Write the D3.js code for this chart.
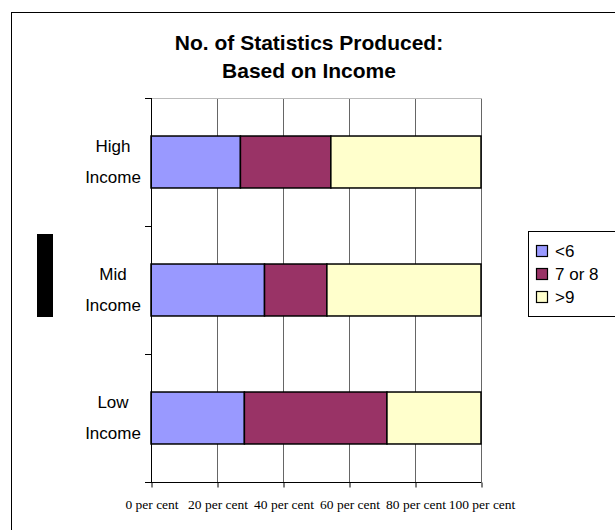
<!DOCTYPE html>
<html><head><meta charset="utf-8">
<script src="https://cdn.jsdelivr.net/npm/d3@7"></script>
<style>body{margin:0;background:#fff}svg{display:block}</style>
</head><body>
<svg id="c" width="615" height="530"></svg>
<script>
const categories = [["High","Income"],["Mid","Income"],["Low","Income"]];
const seriesNames = ["<6","7 or 8",">9"];
const seriesColors = ["#9999FF","#993366","#FFFFCC"];
const lt6 = [27.1, 34.4, 28.3];
const s7or8 = [27.4, 18.9, 43.2];
const gt9 = [45.5, 46.7, 28.5];
const tickValues = [0,20,40,60,80,100];
const tickLabels = ["0 per cent","20 per cent","40 per cent","60 per cent","80 per cent","100 per cent"];
const titleLines = ["No. of Statistics Produced:","Based on Income"];

const svg = d3.select("#c");
// outer chart border
svg.append("rect").attr("x",11.5).attr("y",12.5).attr("width",604).attr("height",530)
  .attr("fill","none").attr("stroke","#000").attr("stroke-width",1);

const L=151, R=481, T=98, B=482;
const x = d3.scaleLinear().domain([0,100]).range([L,R]);
const y = d3.scaleBand().domain(d3.range(categories.length)).range([T,B]).paddingInner(0.594).paddingOuter(0.297);

// title
svg.append("text").attr("text-anchor","middle")
  .attr("font-family","Liberation Sans, Arial, sans-serif").attr("font-weight","bold").attr("font-size",21)
  .selectAll("tspan").data(titleLines).join("tspan")
  .attr("x",309).attr("y",(d,i)=>50+i*28).text(d=>d);

// gridlines
svg.append("g").selectAll("line").data(tickValues.slice(1)).join("line")
  .attr("x1",d=>x(d)+0.5).attr("x2",d=>x(d)+0.5).attr("y1",T).attr("y2",B)
  .attr("stroke","#666").attr("stroke-width",1);
svg.append("line").attr("x1",L).attr("x2",R+1).attr("y1",T+0.5).attr("y2",T+0.5).attr("stroke","#bbb");

// stacked data
const rows = categories.map((c,i)=>({i, "<6":lt6[i], "7 or 8":s7or8[i], ">9":gt9[i]}));
const stack = d3.stack().keys(seriesNames)(rows);
svg.append("g").selectAll("g").data(stack).join("g")
  .attr("fill",(d,i)=>seriesColors[i])
  .selectAll("rect").data(d=>d).join("rect")
  .attr("x",d=>x(d[0])).attr("width",d=>x(d[1])-x(d[0]))
  .attr("y",d=>y(d.data.i)).attr("height",y.bandwidth())
  .attr("stroke","#000").attr("stroke-width",1.5);

// left axis
const yAxisG = svg.append("g");
yAxisG.append("line").attr("x1",L+0.5).attr("x2",L+0.5).attr("y1",T).attr("y2",B).attr("stroke","#000");
const boundaries = d3.range(categories.length+1).map(i=>T+i*(B-T)/categories.length);
yAxisG.selectAll("line.t").data(boundaries).join("line").attr("class","t")
  .attr("x1",L-6).attr("x2",L).attr("y1",d=>Math.round(d)+0.5).attr("y2",d=>Math.round(d)+0.5).attr("stroke","#000");
// category labels
svg.append("g").selectAll("text").data(categories).join("text")
  .attr("font-family","Liberation Sans, Arial, sans-serif").attr("font-size",17).attr("text-anchor","middle")
  .each(function(d,i){
    const cy = y(i)+y.bandwidth()/2;
    d3.select(this).selectAll("tspan").data(d).join("tspan")
      .attr("x",113).attr("y",(t,j)=>cy-10+j*31).text(t=>t);
  });

// bottom axis
const xAxis = d3.axisBottom(x).tickValues(tickValues).tickSize(5).tickPadding(12)
  .tickFormat((d,i)=>tickLabels[i]);
const xg = svg.append("g").attr("transform",`translate(0.5,${B+0.5})`).call(xAxis);
xg.select(".domain").remove();
xg.append("line").attr("x1",L-6.5).attr("x2",R).attr("y1",0).attr("y2",0).attr("stroke","#000");
xg.selectAll(".tick text").attr("font-family","Liberation Serif, Times New Roman, serif").attr("font-size",13.5).attr("fill","#000");

// black bar artifact (rotated axis title block)
svg.append("rect").attr("x",37).attr("y",234).attr("width",16).attr("height",83).attr("fill","#000");

// legend
const lg = svg.append("g");
lg.append("rect").attr("x",528.5).attr("y",231.5).attr("width",90).attr("height",85)
  .attr("fill","#fff").attr("stroke","#000");
const items = lg.selectAll("g").data(seriesNames).join("g")
  .attr("transform",(d,i)=>`translate(536,${251+i*23})`);
items.append("rect").attr("x",0.5).attr("y",-5.5).attr("width",11).attr("height",11)
  .attr("fill",(d,i)=>seriesColors[i]).attr("stroke","#000").attr("stroke-width",1.2);
items.append("text").attr("x",19).attr("y",6).attr("font-family","Liberation Sans, Arial, sans-serif")
  .attr("font-size",17).text(d=>d);
</script>
</body></html>
